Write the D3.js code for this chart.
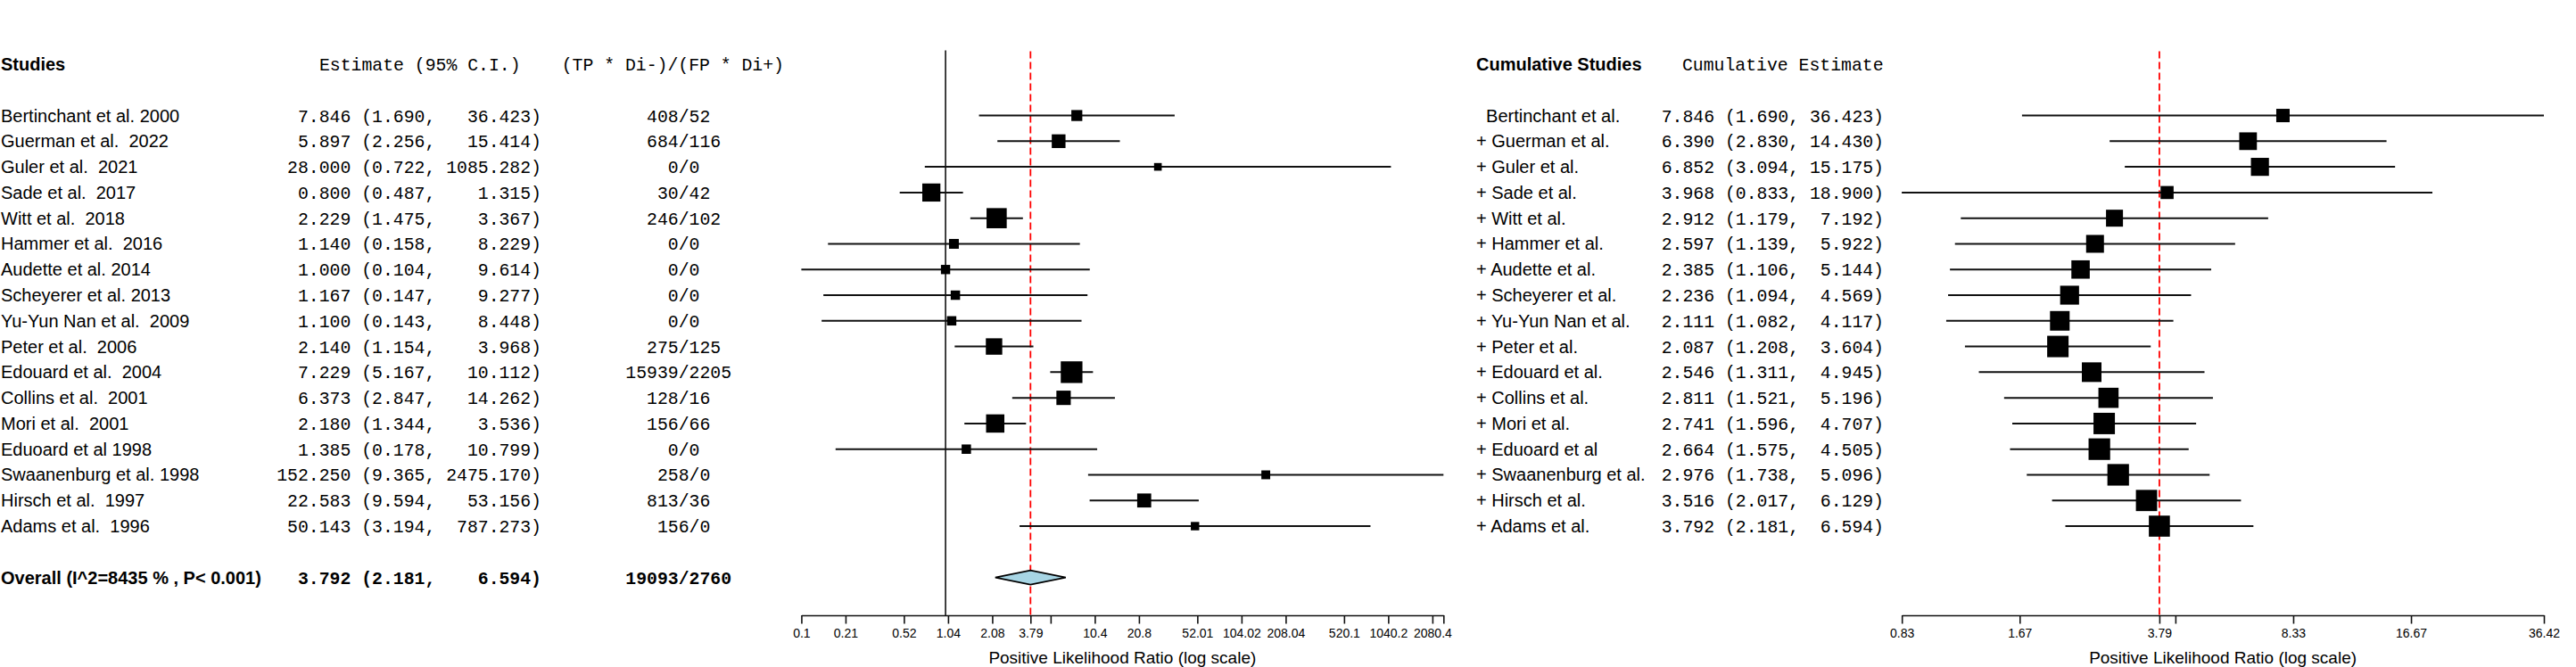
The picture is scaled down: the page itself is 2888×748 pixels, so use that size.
<!DOCTYPE html>
<html><head><meta charset="utf-8">
<script src="https://cdn.jsdelivr.net/npm/d3@7"></script>
<style>
html,body{margin:0;padding:0;background:#fff;}
svg text{white-space:pre;}
</style>
</head><body>
<svg id="chart" width="2888" height="748"></svg>
<script>
// ---------- DATA ----------
const studyNames = ["Bertinchant et al. 2000","Guerman et al.  2022","Guler et al.  2021","Sade et al.  2017","Witt et al.  2018","Hammer et al.  2016","Audette et al. 2014","Scheyerer et al. 2013","Yu-Yun Nan et al.  2009","Peter et al.  2006","Edouard et al.  2004","Collins et al.  2001","Mori et al.  2001","Eduoard et al 1998","Swaanenburg et al. 1998","Hirsch et al.  1997","Adams et al.  1996"];
const studyEst = [7.846,5.897,28.000,0.800,2.229,1.140,1.000,1.167,1.100,2.140,7.229,6.373,2.180,1.385,152.250,22.583,50.143];
const studyLo  = [1.690,2.256,0.722,0.487,1.475,0.158,0.104,0.147,0.143,1.154,5.167,2.847,1.344,0.178,9.365,9.594,3.194];
const studyHi  = [36.423,15.414,1085.282,1.315,3.367,8.229,9.614,9.277,8.448,3.968,10.112,14.262,3.536,10.799,2475.170,53.156,787.273];
const studyRatio = ["408/52","684/116","0/0","30/42","246/102","0/0","0/0","0/0","0/0","275/125","15939/2205","128/16","156/66","0/0","258/0","813/36","156/0"];
const studyWeights = [12.3,15.4,8.6,20.3,22.6,11.0,10.4,10.5,10.5,18.4,24.3,16.1,20.5,10.5,9.9,15.7,9.4];

const overallLabel = "Overall (I^2=8435 % , P< 0.001)";
const overallEst = 3.792, overallLo = 2.181, overallHi = 6.594;
const overallRatio = "19093/2760";

const cumNames = ["Bertinchant et al.","Guerman et al.","Guler et al.","Sade et al.","Witt et al.","Hammer et al.","Audette et al.","Scheyerer et al.","Yu-Yun Nan et al.","Peter et al.","Edouard et al.","Collins et al.","Mori et al.","Eduoard et al","Swaanenburg et al.","Hirsch et al.","Adams et al."];
const cumEst = [7.846,6.390,6.852,3.968,2.912,2.597,2.385,2.236,2.111,2.087,2.546,2.811,2.741,2.664,2.976,3.516,3.792];
const cumLo  = [1.690,2.830,3.094,0.833,1.179,1.139,1.106,1.094,1.082,1.208,1.311,1.521,1.596,1.575,1.738,2.017,2.181];
const cumHi  = [36.423,14.430,15.175,18.900,7.192,5.922,5.144,4.569,4.117,3.604,4.945,5.196,4.707,4.505,5.096,6.129,6.594];
const cumWeights = [15.0,19.8,20.2,14.6,19.0,20.0,20.6,21.2,22.0,24.0,22.0,22.6,24.0,24.2,24.2,23.8,23.6];

const leftTicks = [0.10402,0.20804,0.5201,1.0402,2.0804,3.792,5.201,10.402,20.804,52.01,104.02,208.04,520.1,1040.2,2080.4,2475.17];
const leftTickLabels = ["0.1","0.21","0.52","1.04","2.08","3.79","","10.4","20.8","52.01","104.02","208.04","520.1","1040.2","2080.4",""];
const rightTicks = [0.8334,1.6668,3.792,4.167,8.334,16.668,36.423];
const rightTickLabels = ["0.83","1.67","3.79","","8.33","16.67","36.42"];

const headers = {studies:"Studies", est:"Estimate (95% C.I.)", ratio:"(TP * Di-)/(FP * Di+)", cum:"Cumulative Studies", cumEst:"Cumulative Estimate"};
const axisTitle = "Positive Likelihood Ratio (log scale)";

// ---------- LAYOUT ----------
const svg = d3.select("#chart");
const SANS = "'Liberation Sans', Arial, sans-serif";
const MONO = "'Liberation Mono', 'Courier New', monospace";
const rowY = d3.scaleLinear().domain([0, 20]).range([72, 647.6]);
const axisY = 690, refTop = 56.5;

const xL = d3.scaleLog().domain([d3.min(studyLo), d3.max(studyHi)]).range([898.4, 1618.3]);
const xR = d3.scaleLog().domain([0.8334, d3.max(cumHi)]).range([2132.2, 2852]);
const boxL = d3.scaleLinear().domain([0, 24.3]).range([0, 24.3]);
const boxR = d3.scaleLinear().domain([0, 24.3]).range([0, 24.3]);

const f3 = v => v.toFixed(3);
const padL = (s, n) => " ".repeat(Math.max(0, n - s.length)) + s;
const baseOff = 7;

// ---------- LEFT TEXT ----------
const g = svg.append("g");
g.append("text").attr("x", 1).attr("y", rowY(0)+baseOff).attr("font-family", SANS).attr("font-size", 20).attr("font-weight", "bold").text(headers.studies);
g.append("text").attr("x", 358).attr("y", rowY(0)+baseOff).attr("font-family", MONO).attr("font-size", 19.8).text(headers.est);
g.append("text").attr("x", 629.7).attr("y", rowY(0)+baseOff).attr("font-family", MONO).attr("font-size", 19.8).text(headers.ratio);

studyNames.forEach((n, i) => {
  const y = rowY(i+2) + baseOff;
  g.append("text").attr("x", 1).attr("y", y).attr("font-family", SANS).attr("font-size", 20).text(n);
  g.append("text").attr("x", 607).attr("y", y).attr("text-anchor", "end").attr("font-family", MONO).attr("font-size", 19.8)
    .text(`${padL(f3(studyEst[i]),7)} (${padL(f3(studyLo[i]),5)}, ${padL(f3(studyHi[i]),8)})`);
  const r = studyRatio[i];
  g.append("text").attr("x", 701.3).attr("y", y).attr("font-family", MONO).attr("font-size", 19.8)
    .text(" ".repeat(Math.ceil((10 - r.length)/2)) + r);
});
{
  const y = rowY(20) + baseOff;
  g.append("text").attr("x", 1).attr("y", y).attr("font-family", SANS).attr("font-size", 20).attr("font-weight", "bold").text(overallLabel);
  g.append("text").attr("x", 607).attr("y", y).attr("text-anchor", "end").attr("font-family", MONO).attr("font-size", 19.8).attr("font-weight", "bold")
    .text(`${padL(f3(overallEst),7)} (${padL(f3(overallLo),5)}, ${padL(f3(overallHi),8)})`);
  g.append("text").attr("x", 701.3).attr("y", y).attr("font-family", MONO).attr("font-size", 19.8).attr("font-weight", "bold")
    .text(" ".repeat(Math.ceil((10 - overallRatio.length)/2)) + overallRatio);
}

// ---------- LEFT FOREST ----------
const gl = svg.append("g");
gl.append("line").attr("x1", xL(1)).attr("x2", xL(1)).attr("y1", refTop).attr("y2", axisY).attr("stroke", "#111").attr("stroke-width", 1.6);
gl.append("line").attr("x1", xL(overallEst)).attr("x2", xL(overallEst)).attr("y1", refTop+1).attr("y2", axisY)
  .attr("stroke", "#ff0000").attr("stroke-width", 1.8).attr("stroke-dasharray", "8,4");
studyEst.forEach((e, i) => {
  const y = rowY(i+2);
  gl.append("line").attr("x1", xL(studyLo[i])).attr("x2", xL(studyHi[i])).attr("y1", y).attr("y2", y).attr("stroke", "#111").attr("stroke-width", 2);
  const s = boxL(studyWeights[i]);
  gl.append("rect").attr("x", xL(e)-s/2).attr("y", y-s/2).attr("width", s).attr("height", s).attr("fill", "#000");
});
{
  const y = rowY(20), h = 8;
  gl.append("path").attr("d", `M${xL(overallLo)},${y} L${xL(overallEst)},${y-h} L${xL(overallHi)},${y} L${xL(overallEst)},${y+h} Z`)
    .attr("fill", "#a7d5e4").attr("stroke", "#000").attr("stroke-width", 1.6);
}
const axL = gl.append("g").attr("transform", `translate(0,${axisY})`)
  .call(d3.axisBottom(xL).tickValues(leftTicks).tickFormat((d, i) => leftTickLabels[i]).tickSizeInner(9.5).tickSizeOuter(0).tickPadding(6));
axL.select(".domain").attr("stroke", "#111").attr("stroke-width", 1.6);
axL.selectAll(".tick line").attr("stroke", "#111").attr("stroke-width", 1.6);
axL.selectAll(".tick text").attr("font-family", SANS).attr("font-size", 14).attr("fill", "#000");
gl.append("text").attr("x", (xL.range()[0]+xL.range()[1])/2).attr("y", 743.5).attr("text-anchor", "middle")
  .attr("font-family", SANS).attr("font-size", 19).text(axisTitle);

// ---------- RIGHT TEXT ----------
const gr = svg.append("g");
gr.append("text").attr("x", 1655).attr("y", rowY(0)+baseOff).attr("font-family", SANS).attr("font-size", 20).attr("font-weight", "bold").text(headers.cum);
gr.append("text").attr("x", 1886).attr("y", rowY(0)+baseOff).attr("font-family", MONO).attr("font-size", 19.8).text(headers.cumEst);
cumNames.forEach((n, i) => {
  const y = rowY(i+2) + baseOff;
  gr.append("text").attr("x", 1655).attr("y", y).attr("font-family", SANS).attr("font-size", 20).text((i === 0 ? "  " : "+ ") + n);
  gr.append("text").attr("x", 2112).attr("y", y).attr("text-anchor", "end").attr("font-family", MONO).attr("font-size", 19.8)
    .text(`${f3(cumEst[i])} (${f3(cumLo[i])}, ${padL(f3(cumHi[i]),6)})`);
});

// ---------- RIGHT FOREST ----------
gr.append("line").attr("x1", xR(overallEst)).attr("x2", xR(overallEst)).attr("y1", refTop+1).attr("y2", axisY)
  .attr("stroke", "#ff0000").attr("stroke-width", 1.8).attr("stroke-dasharray", "8,4");
cumEst.forEach((e, i) => {
  const y = rowY(i+2);
  gr.append("line").attr("x1", xR(cumLo[i])).attr("x2", xR(cumHi[i])).attr("y1", y).attr("y2", y).attr("stroke", "#111").attr("stroke-width", 2);
  const s = boxR(cumWeights[i]);
  gr.append("rect").attr("x", xR(e)-s/2).attr("y", y-s/2).attr("width", s).attr("height", s).attr("fill", "#000");
});
const axR = gr.append("g").attr("transform", `translate(0,${axisY})`)
  .call(d3.axisBottom(xR).tickValues(rightTicks).tickFormat((d, i) => rightTickLabels[i]).tickSizeInner(9.5).tickSizeOuter(0).tickPadding(6));
axR.select(".domain").attr("stroke", "#111").attr("stroke-width", 1.6);
axR.selectAll(".tick line").attr("stroke", "#111").attr("stroke-width", 1.6);
axR.selectAll(".tick text").attr("font-family", SANS).attr("font-size", 14).attr("fill", "#000");
gr.append("text").attr("x", (xR.range()[0]+xR.range()[1])/2).attr("y", 743.5).attr("text-anchor", "middle")
  .attr("font-family", SANS).attr("font-size", 19).text(axisTitle);
</script>
</body></html>
